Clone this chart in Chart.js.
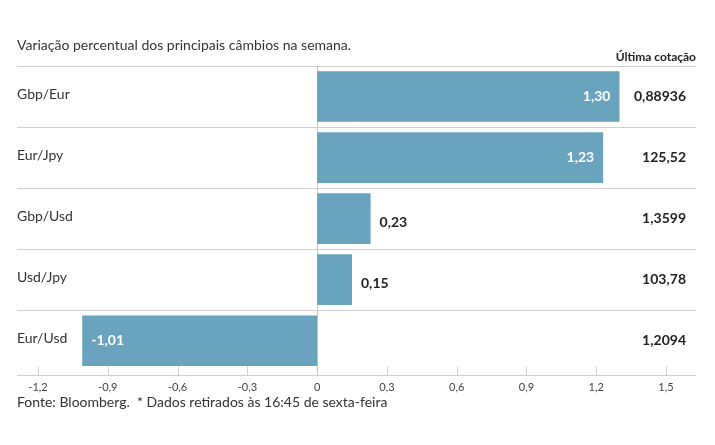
<!DOCTYPE html>
<html>
<head>
<meta charset="utf-8">
<script src="https://cdn.jsdelivr.net/npm/chart.js@4"></script>
<style>
  html, body { margin: 0; padding: 0; background: #fff; }
  #wrap { position: relative; width: 715px; height: 445px; }
</style>
</head>
<body>
<div id="wrap"><canvas id="chart" width="715" height="445"></canvas></div>
<script>
const title = 'Variação percentual dos principais câmbios na semana.';
const footer = 'Fonte: Bloomberg.  * Dados retirados às 16:45 de sexta-feira';
const quoteHeader = 'Última cotação';
const pairs = ['Gbp/Eur', 'Eur/Jpy', 'Gbp/Usd', 'Usd/Jpy', 'Eur/Usd'];
const changes = [1.30, 1.23, 0.23, 0.15, -1.01];
const quotes = ['0,88936', '125,52', '1,3599', '103,78', '1,2094'];
const xTicks = [-1.2, -0.9, -0.6, -0.3, 0, 0.3, 0.6, 0.9, 1.2, 1.5];

const FONT = 'Lato, "Open Sans", sans-serif';
const barColor = '#6aa3be';
const lineColor = '#cfcfcf';
const axisGap = 3.5; // axis line sits a little below the last row

const fmt = (v, d) => v.toFixed(d).replace('.', ',');

const decor = {
  id: 'decor',
  beforeDatasetsDraw(chart) {
    const { ctx, chartArea: a, scales: { x } } = chart;
    ctx.save();
    // row separators
    ctx.strokeStyle = lineColor;
    ctx.lineWidth = 1;
    const rowH = (a.bottom - a.top) / pairs.length;
    for (let i = 0; i < pairs.length; i++) {
      const yy = Math.round(a.top + i * rowH) + 0.5;
      ctx.beginPath(); ctx.moveTo(17, yy); ctx.lineTo(696, yy); ctx.stroke();
    }
    // bottom axis line
    const by = Math.round(a.bottom + axisGap) + 0.5;
    ctx.beginPath(); ctx.moveTo(17, by); ctx.lineTo(696, by); ctx.stroke();
    // tick marks pointing up
    xTicks.forEach(t => {
      const px = Math.round(x.getPixelForValue(t)) + 0.5;
      ctx.beginPath(); ctx.moveTo(px, by - 9); ctx.lineTo(px, by); ctx.stroke();
    });
    // zero line
    ctx.strokeStyle = '#c4c4c4';
    const z = Math.round(x.getPixelForValue(0)) + 0.5;
    ctx.beginPath(); ctx.moveTo(z, a.top); ctx.lineTo(z, by); ctx.stroke();
    ctx.restore();
  },
  afterDraw(chart) {
    const { ctx } = chart;
    const meta = chart.getDatasetMeta(0);
    ctx.save();
    ctx.textBaseline = 'middle';
    // title
    ctx.fillStyle = '#333';
    ctx.font = '14px ' + FONT;
    ctx.textAlign = 'left';
    ctx.fillText(title, 17, 45);
    // header
    ctx.font = 'bold 12px ' + FONT;
    ctx.textAlign = 'right';
    ctx.fillStyle = '#222';
    ctx.fillText(quoteHeader, 696, 57);
    // footer
    ctx.font = '14px ' + FONT;
    ctx.textAlign = 'left';
    ctx.fillStyle = '#333';
    ctx.fillText(footer, 17, 402);

    meta.data.forEach((bar, i) => {
      const cy = bar.y;
      // category label
      ctx.font = '14px ' + FONT;
      ctx.fillStyle = '#333';
      ctx.textAlign = 'left';
      ctx.fillText(pairs[i], 17, cy - 2);
      // quote
      ctx.font = 'bold 14px ' + FONT;
      ctx.fillStyle = '#222';
      ctx.textAlign = 'right';
      ctx.fillText(quotes[i], 686, cy);
      // value label
      const v = changes[i];
      const txt = fmt(v, 2);
      ctx.font = 'bold 14px ' + FONT;
      const w = Math.abs(bar.x - bar.base);
      if (w > 60) {
        ctx.fillStyle = '#fff';
        if (v >= 0) { ctx.textAlign = 'right'; ctx.fillText(txt, bar.x - 9, cy); }
        else { ctx.textAlign = 'left'; ctx.fillText(txt, bar.x + 9, cy); }
      } else {
        ctx.fillStyle = '#222';
        ctx.textAlign = 'left';
        ctx.fillText(txt, bar.x + 9, cy + 4);
      }
    });
    ctx.restore();
  }
};

new Chart(document.getElementById('chart'), {
  type: 'bar',
  data: {
    labels: pairs,
    datasets: [{
      data: changes,
      backgroundColor: barColor,
      borderWidth: 0,
      categoryPercentage: 1,
      barPercentage: 0.83
    }]
  },
  options: {
    indexAxis: 'y',
    responsive: false,
    animation: false,
    layout: { padding: { left: 38, right: 49, top: 66, bottom: 41.5 } },
    plugins: { legend: { display: false }, tooltip: { enabled: false } },
    scales: {
      y: { display: false },
      x: {
        min: -1.2,
        max: 1.5,
        afterBuildTicks: (s) => { s.ticks = xTicks.map(v => ({ value: v })); },
        grid: { display: false, drawTicks: false },
        border: { display: false },
        ticks: {
          padding: 6 + axisGap,
          color: '#444',
          font: { family: FONT, size: 11 },
          callback: (v) => (v === 0 ? '0' : fmt(v, 1))
        }
      }
    }
  },
  plugins: [decor]
});
</script>
</body>
</html>
